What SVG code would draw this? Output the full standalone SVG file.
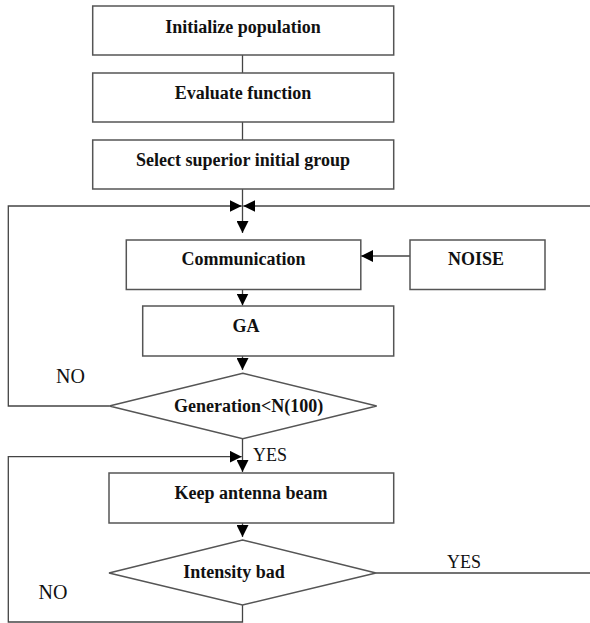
<svg xmlns="http://www.w3.org/2000/svg" width="590" height="623" viewBox="0 0 590 623">
<defs>
<style>
.box{fill:#fff;stroke:#555;stroke-width:1.5}
.ln{fill:none;stroke:#444;stroke-width:1.3}
.t{font-family:"Liberation Serif","Times New Roman",serif;font-size:18px;font-weight:bold;fill:#111;text-anchor:middle}
.lb{font-family:"Liberation Serif","Times New Roman",serif;font-size:18px;fill:#111}
</style>
<marker id="ah" viewBox="0 0 12 12" refX="12" refY="6" markerWidth="12" markerHeight="12" markerUnits="userSpaceOnUse" orient="auto">
<path d="M0,0 L12,6 L0,12 z" fill="#000"/>
</marker>
</defs>
<rect width="590" height="623" fill="#fff"/>
<g id="connectors">
<path class="ln" d="M242.5,55 V73"/>
<path class="ln" d="M242.5,122 V140"/>
<path class="ln" d="M242.5,189 V233" marker-end="url(#ah)"/>
<path class="ln" d="M109.3,406 H8.3 V206 H241.7" marker-end="url(#ah)"/>
<path class="ln" d="M590,206 H243.3" marker-end="url(#ah)"/>
<path class="ln" d="M410,256 H361" marker-end="url(#ah)"/>
<path class="ln" d="M242.5,289 V305.5" marker-end="url(#ah)"/>
<path class="ln" d="M242.5,356 V370" marker-end="url(#ah)"/>
<path class="ln" d="M242.5,439 V472" marker-end="url(#ah)"/>
<path class="ln" d="M242.5,523 V537" marker-end="url(#ah)"/>
<path class="ln" d="M242.5,605 V622 H8.3 V456.7 H241.7" marker-end="url(#ah)"/>
<path class="ln" d="M376,573 H590"/>
<text class="lb" x="56" y="383" style="font-size:20px">NO</text>
<text class="lb" x="253" y="461">YES</text>
<text class="lb" x="447" y="568">YES</text>
<text class="lb" x="38.5" y="599" style="font-size:20px">NO</text>
</g>
<g id="init">
<rect class="box" x="92.7" y="6" width="301" height="49"/>
<text class="t" x="243" y="32.5">Initialize population</text>
</g>
<g id="evaluate">
<rect class="box" x="92.7" y="73" width="301" height="49"/>
<text class="t" x="243" y="99">Evaluate function</text>
</g>
<g id="select">
<rect class="box" x="92.7" y="140" width="301" height="49"/>
<text class="t" x="243" y="166">Select superior initial group</text>
</g>
<g id="communication">
<rect class="box" x="126.3" y="240" width="234.5" height="49.5"/>
<text class="t" x="243.5" y="264.5">Communication</text>
</g>
<g id="noise">
<rect class="box" x="410" y="240" width="135" height="49.5"/>
<text class="t" x="476" y="264.5">NOISE</text>
</g>
<g id="ga">
<rect class="box" x="142.7" y="306" width="251" height="50"/>
<text class="t" x="246" y="332">GA</text>
</g>
<g id="generation">
<polygon class="box" points="242.8,373.3 376.7,406 242.8,438.7 109.3,406"/>
<text class="t" x="248.7" y="411.5">Generation&lt;N(100)</text>
</g>
<g id="keep">
<rect class="box" x="109" y="473" width="284.7" height="50"/>
<text class="t" x="251" y="499">Keep antenna beam</text>
</g>
<g id="intensity">
<polygon class="box" points="242.5,540 376,573 242.5,605 109,573"/>
<text class="t" x="234" y="578">Intensity bad</text>
</g>
</svg>
